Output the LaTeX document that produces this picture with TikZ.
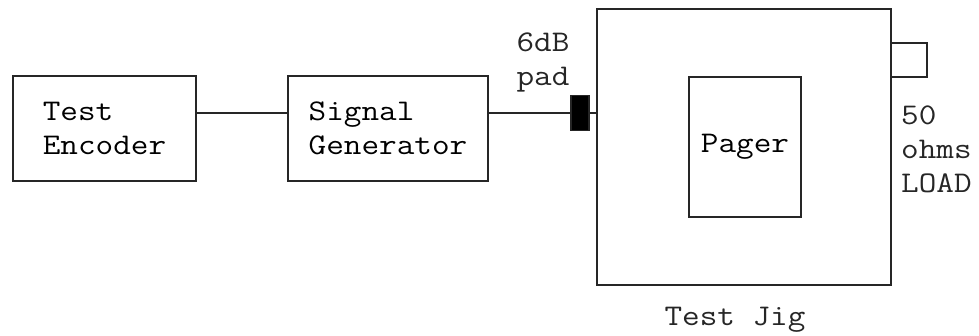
\documentclass[tikz,border=0pt]{standalone}
\usepackage{fontspec}
\setmainfont{Latin Modern Mono}[FakeStretch=1.14]
\begin{document}
\begin{tikzpicture}[x=1pt,y=-1pt,
  box/.style={draw=black!85,line width=1.2pt,inner sep=0pt,align=left,font=\fontsize{30}{34}\selectfont},
  lbl/.style={inner sep=0pt,font=\fontsize{30}{34}\selectfont,text=black!85},
  wire/.style={draw=black!85,line width=1.2pt}]
\useasboundingbox (0,0) rectangle (979,336);
\node[box,minimum width=183pt,minimum height=105pt] (enc) at (104.5,128.5) {Test\\Encoder};
\node[box,minimum width=200pt,minimum height=105pt] (sig) at (388,128.5) {Signal\\Generator};
\node[box,fill=black,minimum width=18pt,minimum height=35pt] (pad) at (580,113) {};
\node[box,minimum width=294pt,minimum height=276pt] (jig) at (744,147) {};
\node[box,minimum width=112pt,minimum height=140pt] (pager) at (745,147) {Pager};
\coordinate (l1) at (927,43);
\coordinate (l2) at (927,77);
\draw[wire] (jig.east |- l1) -- (l1) -- (l2) -- (jig.east |- l2);
\draw[wire] ([yshift=15.5pt]enc.east) -- ([yshift=15.5pt]sig.west);
\draw[wire] (sig.east |- pad.west) -- (pad.west);
\draw[wire] (pad.east) -- (jig.west |- pad.east);
\node[lbl,align=center] (padlbl) at (543,62) {6dB\\pad};
\node[lbl,align=left,anchor=west] (loadlbl) at (901,149) {50\\ohms\\LOAD};
\node[lbl] (jiglbl) at (735,320) {Test Jig};
\end{tikzpicture}
\end{document}
